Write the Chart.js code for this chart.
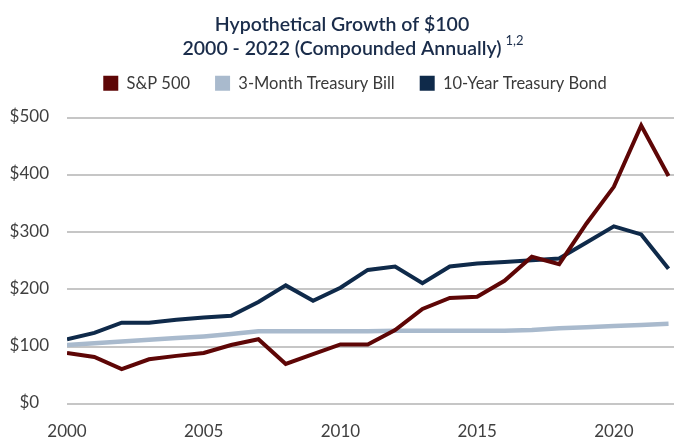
<!DOCTYPE html>
<html>
<head>
<meta charset="utf-8">
<script src="https://cdn.jsdelivr.net/npm/chart.js@4/dist/chart.umd.min.js"></script>
<style>
html,body{margin:0;padding:0;background:#ffffff;}
#wrap{width:700px;height:446px;}
</style>
</head>
<body>
<div id="wrap"><canvas id="c" width="700" height="446"></canvas></div>
<script>
// ---- data ----
const years  = [2000,2001,2002,2003,2004,2005,2006,2007,2008,2009,2010,2011,2012,2013,2014,2015,2016,2017,2018,2019,2020,2021,2022];
const sp500  = [89, 82, 61, 78, 84, 89, 103, 113, 70, 87, 104, 104, 129, 166, 185, 187, 215, 257, 244, 315, 379, 486, 398];
const tbill  = [103, 106, 109, 112, 115, 118, 122, 127, 127, 127, 127, 127, 128, 128, 128, 128, 128, 129, 132, 134, 136, 138, 140];
const bond   = [113, 124, 142, 142, 147, 151, 154, 178, 207, 180, 203, 234, 240, 211, 240, 245, 248, 251, 254, 282, 310, 296, 236];
const seriesNames = ['S&P 500', '3-Month Treasury Bill', '10-Year Treasury Bond'];
const xTicks = [2000, 2005, 2010, 2015, 2020];
const yTicks = [0, 100, 200, 300, 400, 500];
const titleLines = ['Hypothetical Growth of $100', '2000 - 2022 (Compounded Annually)'];
const titleSup = '1,2';

const toPts = arr => years.map((y, i) => ({x: y, y: arr[i]}));

const TITLE_COLOR = '#1a2c4a';
const FONT = 'Lato';
const TITLE_SIZE = 19.5;
const TITLE_WEIGHT = '600';

const spacerPlugin = {
  id: 'spacer',
  beforeInit(chart) {
    const box = {
      position: 'top', weight: 100, fullSize: true, options: {},
      left: 0, top: 0, right: 0, bottom: 0, width: 0, height: 0,
      isHorizontal() { return true; },
      update(maxWidth) { this.width = maxWidth; this.height = 16; },
      draw() {}
    };
    Chart.layouts.addBox(chart, box);
  }
};

const legendShift = {
  id: 'legendShift',
  afterLayout(chart) {
    if (chart.legend) { chart.legend.left += 13; chart.legend.right += 13; }
  }
};

const superscript = {
  id: 'superscript',
  afterDraw(chart) {
    const tb = chart.titleBlock;
    if (!tb) return;
    const ctx = chart.ctx;
    ctx.save();
    ctx.font = TITLE_WEIGHT + ' ' + TITLE_SIZE + 'px ' + FONT;
    const w = ctx.measureText(titleLines[1]).width;
    const cx = (tb.left + tb.right) / 2;
    const mid2 = tb.top + 12.5 + 24 * 1.5;
    ctx.font = 'normal 13px ' + FONT;
    ctx.fillStyle = TITLE_COLOR;
    ctx.textAlign = 'left';
    ctx.textBaseline = 'alphabetic';
    ctx.fillText(titleSup, cx + w / 2 + 4, mid2 + 6.5 - 10.5);
    ctx.restore();
  }
};

new Chart(document.getElementById('c'), {
  type: 'line',
  data: {
    datasets: [
      {label: seriesNames[0], data: toPts(sp500), borderColor: '#5e0606', backgroundColor: '#5e0606', borderWidth: 4, pointRadius: 0, tension: 0},
      {label: seriesNames[1], data: toPts(tbill), borderColor: '#a9bacd', backgroundColor: '#a9bacd', borderWidth: 4.5, pointRadius: 0, tension: 0},
      {label: seriesNames[2], data: toPts(bond),  borderColor: '#0f2a4a', backgroundColor: '#0f2a4a', borderWidth: 4, pointRadius: 0, tension: 0}
    ]
  },
  options: {
    responsive: false,
    animation: false,
    devicePixelRatio: 1,
    layout: {padding: {top: 0, left: 10, right: 26, bottom: 5}},
    plugins: {
      title: {
        display: true,
        text: titleLines,
        color: TITLE_COLOR,
        font: {family: FONT, size: TITLE_SIZE, weight: TITLE_WEIGHT, lineHeight: 24 / TITLE_SIZE},
        padding: {top: 12.5, bottom: -10.5}
      },
      legend: {
        display: true,
        position: 'top',
        labels: {
          boxWidth: 15, boxHeight: 15, padding: 25,
          color: '#3a3a3a',
          font: {family: FONT, size: 16.5},
          generateLabels(chart) {
            const items = Chart.defaults.plugins.legend.labels.generateLabels(chart);
            items.forEach(it => { it.lineWidth = 0; it.fillStyle = it.strokeStyle; });
            return items;
          }
        }
      },
      tooltip: {enabled: false}
    },
    scales: {
      x: {
        type: 'linear',
        min: 2000, max: 2022.2,
        afterBuildTicks: s => { s.ticks = xTicks.map(v => ({value: v})); },
        afterFit: s => { s.height = 37; },
        ticks: {
          callback: v => String(v),
          color: '#404040',
          font: {family: FONT, size: 17},
          padding: 17, maxRotation: 0, autoSkip: false
        },
        grid: {display: false, drawTicks: false},
        border: {display: false}
      },
      y: {
        type: 'linear',
        min: 0, max: 500,
        afterBuildTicks: s => { s.ticks = yTicks.map(v => ({value: v})); },
        afterFit: s => { s.width = 57; },
        ticks: {
          callback: v => '$' + v,
          color: '#404040',
          font: {family: FONT, size: 17},
          padding: 18, crossAlign: 'center', labelOffset: -1
        },
        grid: {color: '#c6c6c6', lineWidth: 2, drawTicks: false},
        border: {display: false}
      }
    }
  },
  plugins: [spacerPlugin, legendShift, superscript]
});
</script>
</body>
</html>
